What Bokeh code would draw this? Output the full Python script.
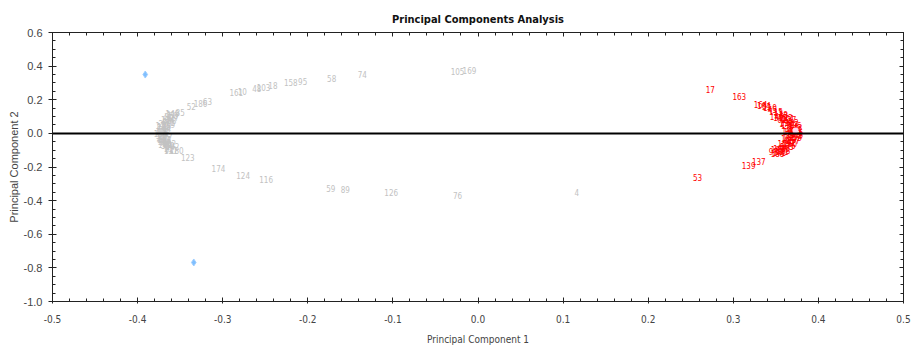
from bokeh.plotting import figure
from bokeh.models import Range1d, LinearAxis, FixedTicker, PrintfTickFormatter, Span, ColumnDataSource, CustomJSTickFormatter
from bokeh.core.properties import value
from bokeh.embed import file_html
from bokeh.resources import INLINE

# ---- data ----
x_ticks = [-0.5, -0.4, -0.3, -0.2, -0.1, 0.0, 0.1, 0.2, 0.3, 0.4, 0.5]
y_ticks = [-1.0, -0.8, -0.6, -0.4, -0.2, 0.0, 0.2, 0.4, 0.6]

grey_labels = ["105", "169", "74", "58", "158", "95", "18", "48", "103", "161", "10",
               "52", "186", "63", "85", "149", "3",
               "21", "47", "9", "112", "66", "150", "31", "98", "140", "7", "131",
               "27", "88", "119", "44", "5", "177", "36", "102", "142",
               "14", "60", "135", "81", "23", "167", "93", "40",
               "1", "13", "20", "25", "30", "37", "42", "49", "55", "61",
               "68", "71", "79", "84", "90", "99",
               "11", "180", "123", "174", "124", "116", "59", "89", "126", "76", "4"]
grey_x = [-0.024, -0.010, -0.136, -0.172, -0.220, -0.206, -0.241, -0.260, -0.252, -0.284, -0.277,
          -0.337, -0.326, -0.318, -0.350, -0.359, -0.366,
          -0.361, -0.365, -0.368, -0.371, -0.372, -0.373, -0.372, -0.371, -0.368, -0.365, -0.361,
          -0.357, -0.360, -0.364, -0.366, -0.367, -0.367, -0.366, -0.363, -0.359,
          -0.362, -0.366, -0.369, -0.370, -0.370, -0.369, -0.366, -0.362,
          -0.363, -0.367, -0.370, -0.372, -0.373, -0.373, -0.372, -0.370, -0.367, -0.363,
          -0.358, -0.362, -0.366, -0.368, -0.368, -0.365,
          -0.364, -0.354, -0.341, -0.305, -0.276, -0.249, -0.173, -0.156, -0.102, -0.024, 0.116]
grey_y = [0.368, 0.374, 0.350, 0.327, 0.303, 0.309, 0.285, 0.267, 0.273, 0.243, 0.249,
          0.160, 0.178, 0.189, 0.124, 0.118, 0.101,
          0.112, 0.095, 0.071, 0.047, 0.023, -0.001, -0.024, -0.048, -0.066, -0.084, -0.101,
          0.095, 0.077, 0.053, 0.029, 0.005, -0.018, -0.042, -0.060, -0.078,
          0.085, 0.062, 0.038, 0.012, -0.010, -0.034, -0.055, -0.072,
          0.104, 0.083, 0.059, 0.035, 0.011, -0.012, -0.036, -0.057, -0.075, -0.093,
          0.104, 0.066, 0.041, 0.017, -0.030, -0.066,
          -0.090, -0.101, -0.143, -0.208, -0.249, -0.273, -0.327, -0.333, -0.351, -0.369, -0.351]

red_labels = ["17", "163",
              "164", "51", "45", "12", "33", "101", "2", "67", "143", "86", "29", "154",
              "8", "92", "176", "36", "121", "188",
              "146", "62", "19", "170", "35", "108", "77", "155", "41", "129", "6", "183", "97",
              "104", "110", "115", "118", "122", "127", "132", "136", "141", "145", "148",
              "152", "157", "160", "165", "168", "171", "175", "178", "181", "184", "187",
              "137", "139", "53"]
red_x = [0.273, 0.307,
         0.332, 0.339, 0.346, 0.353, 0.359, 0.364, 0.367, 0.371, 0.373, 0.374, 0.374, 0.373,
         0.371, 0.368, 0.365, 0.361, 0.357, 0.352,
         0.351, 0.357, 0.360, 0.364, 0.366, 0.367, 0.367, 0.366, 0.364, 0.360, 0.357, 0.352, 0.347,
         0.336, 0.343, 0.350, 0.356, 0.362, 0.366, 0.369, 0.372, 0.373, 0.374, 0.374,
         0.372, 0.370, 0.367, 0.363, 0.359, 0.354, 0.355, 0.362, 0.365, 0.364, 0.355,
         0.330, 0.318, 0.258]
red_y = [0.261, 0.220,
         0.172, 0.160, 0.142, 0.124, 0.106, 0.089, 0.071, 0.053, 0.035, 0.017, 0.000, -0.018,
         -0.036, -0.054, -0.072, -0.090, -0.108, -0.120,
         0.100, 0.083, 0.065, 0.047, 0.029, 0.011, -0.007, -0.024, -0.042, -0.060, -0.078, -0.096, -0.108,
         0.166, 0.151, 0.133, 0.115, 0.097, 0.080, 0.062, 0.044, 0.026, 0.008, -0.009,
         -0.027, -0.045, -0.063, -0.081, -0.099, -0.114, 0.092, 0.056, 0.020, -0.033, -0.087,
         -0.167, -0.191, -0.262]

blue_x = [-0.391, -0.334]
blue_y = [0.350, -0.768]

center_x = [-0.373, 0.373]
center_y = [0.005, 0.017]
center_colors = ["#cfcfcf", "#ffd6ee"]

NARROW = "DejaVu Sans Condensed, Liberation Sans, sans-serif"
SANS = "Liberation Sans, Arial, sans-serif"
DARK = "#222222"

p = figure(width=912, height=350, output_backend="svg", toolbar_location=None,
           x_range=Range1d(-0.5, 0.5), y_range=Range1d(-1.0, 0.6),
           min_border_left=52, min_border_right=9, min_border_top=32, min_border_bottom=49,
           background_fill_color="white", border_fill_color="white")
p.grid.visible = False
p.outline_line_color = DARK

p.title.text = "Principal Components Analysis"
p.title.align = "center"
p.title.text_font = NARROW
p.title.text_font_size = "11px"
p.title.text_font_style = "bold"
p.title.text_color = "#111111"
p.title.standoff = 14

xa = p.xaxis[0]
xa.ticker = FixedTicker(ticks=x_ticks, minor_ticks=[round(-0.5 + i * 0.02, 2) for i in range(51)])
xa.formatter = PrintfTickFormatter(format="%.1f")
xa.axis_label = "Principal Component 1"
xa.axis_label_text_font = NARROW
xa.axis_label_text_font_size = "10px"
xa.axis_label_text_font_style = "normal"
xa.axis_label_standoff = 8
xa.major_label_text_font = NARROW
xa.major_label_text_font_size = "10px"
xa.major_label_standoff = 11
xa.major_tick_in = 4
xa.major_tick_out = 2
xa.minor_tick_in = 3
xa.minor_tick_out = 0
xa.axis_line_color = DARK
xa.major_tick_line_color = DARK
xa.minor_tick_line_color = DARK

ya = p.yaxis[0]
ya.ticker = FixedTicker(ticks=y_ticks, minor_ticks=[round(-1.0 + i * 0.05, 2) for i in range(33)])
ya.formatter = PrintfTickFormatter(format="%.1f")
ya.axis_label = "Principal Component 2"
ya.axis_label_text_font = SANS
ya.axis_label_text_font_size = "11px"
ya.axis_label_text_font_style = "normal"
ya.axis_label_standoff = 1
ya.major_label_text_font = SANS
ya.major_label_text_font_size = "11px"
ya.major_label_standoff = 6
ya.major_tick_in = 4
ya.major_tick_out = 4
ya.minor_tick_in = 3
ya.minor_tick_out = 0
ya.axis_line_color = DARK
ya.major_tick_line_color = DARK
ya.minor_tick_line_color = DARK

blank = CustomJSTickFormatter(code="return ''")
top = LinearAxis(ticker=FixedTicker(ticks=x_ticks, minor_ticks=[round(-0.5 + i * 0.02, 2) for i in range(51)]),
                 formatter=blank, major_label_text_font_size="1px", major_label_standoff=0,
                 major_tick_in=4, major_tick_out=0, minor_tick_in=3, minor_tick_out=0,
                 axis_line_color=DARK, major_tick_line_color=DARK, minor_tick_line_color=DARK)
right = LinearAxis(ticker=FixedTicker(ticks=y_ticks, minor_ticks=[round(-1.0 + i * 0.05, 2) for i in range(33)]),
                   formatter=blank, major_label_text_font_size="1px", major_label_standoff=0,
                   major_tick_in=4, major_tick_out=0, minor_tick_in=3, minor_tick_out=0,
                   axis_line_color=DARK, major_tick_line_color=DARK, minor_tick_line_color=DARK)
p.add_layout(top, "above")
p.add_layout(right, "right")

p.add_layout(Span(location=0, dimension="width", line_color="black", line_width=2))

grey_src = ColumnDataSource(dict(x=grey_x, y=grey_y, t=grey_labels))
red_src = ColumnDataSource(dict(x=red_x, y=red_y, t=red_labels))

p.text(x="x", y="y", text="t", source=grey_src, text_color="#c2c2c2",
       text_font=value(NARROW), text_font_size="8px", text_align="center", text_baseline="middle")
p.text(x="x", y="y", text="t", source=red_src, text_color="#ff0000",
       text_font=value(NARROW), text_font_size="8px", text_align="center", text_baseline="middle")

p.scatter(center_x, center_y, marker="circle", size=6, fill_color=center_colors, line_color=None)
p.scatter(blue_x, blue_y, marker="diamond", size=7, fill_color="#7fbfff", line_color="#9fcfff")

open("out.html", "w").write(file_html(p, INLINE))
